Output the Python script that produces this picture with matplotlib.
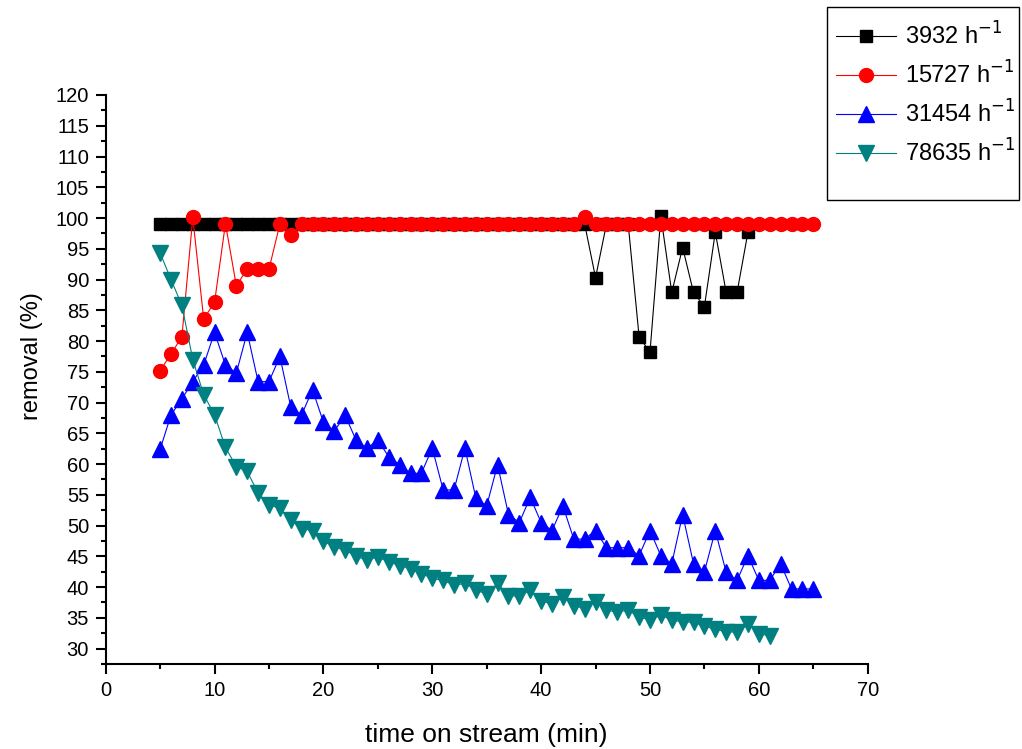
import matplotlib
matplotlib.use("Agg")
import matplotlib.pyplot as plt
from matplotlib.ticker import MultipleLocator
from matplotlib.patches import Rectangle

plt.rcParams['font.family'] = ['Liberation Sans', 'DejaVu Sans']

# ---- data ----
x_3932 = [5, 6, 7, 8, 9, 10, 11, 12, 13, 14, 15, 16, 17, 18, 19, 20, 21, 22, 23, 24,
          25, 26, 27, 28, 29, 30, 31, 32, 33, 34, 35, 36, 37, 38, 39, 40, 41, 42, 43, 44,
          45, 46, 47, 48, 49, 50, 51, 52, 53, 54, 55, 56, 57, 58, 59]
y_3932 = [99, 99, 99, 99, 99, 99, 99, 99, 99, 99, 99, 99, 99, 99, 99, 99, 99, 99, 99, 99,
          99, 99, 99, 99, 99, 99, 99, 99, 99, 99, 99, 99, 99, 99, 99, 99, 99, 99, 99, 99,
          90.3, 99, 99, 99, 80.7, 78.2, 100.3, 87.9, 95.2, 87.9, 85.6, 97.7, 87.9, 87.9, 97.7]

x_15727 = [5, 6, 7, 8, 9, 10, 11, 12, 13, 14, 15, 16, 17, 18, 19, 20, 21, 22, 23, 24,
           25, 26, 27, 28, 29, 30, 31, 32, 33, 34, 35, 36, 37, 38, 39, 40, 41, 42, 43, 44,
           45, 46, 47, 48, 49, 50, 51, 52, 53, 54, 55, 56, 57, 58, 59, 60, 61, 62, 63, 64, 65]
y_15727 = [75.2, 77.9, 80.7, 100.1, 83.6, 86.3, 99.1, 89.0, 91.7, 91.7, 91.7, 99, 97.3, 99, 99,
           99, 99, 99, 99, 99, 99, 99, 99, 99, 99, 99, 99, 99, 99, 99, 99, 99, 99, 99, 99,
           99, 99, 99, 99, 100.1, 99, 99, 99, 99, 99, 99, 99, 99, 99, 99, 99, 99, 99, 99,
           99, 99, 99, 99, 99, 99, 99]

x_31454 = [5, 6, 7, 8, 9, 10, 11, 12, 13, 14, 15, 16, 17, 18, 19, 20, 21, 22, 23, 24,
           25, 26, 27, 28, 29, 30, 31, 32, 33, 34, 35, 36, 37, 38, 39, 40, 41, 42, 43, 44,
           45, 46, 47, 48, 49, 50, 51, 52, 53, 54, 55, 56, 57, 58, 59, 60, 61, 62, 63, 64, 65]
y_31454 = [62.4, 68.0, 70.6, 73.4, 76.1, 81.4, 76.1, 74.8, 81.4, 73.4, 73.4, 77.5, 69.3, 68.0,
           72.1, 66.8, 65.4, 67.9, 63.9, 62.6, 63.9, 61.2, 59.9, 58.5, 58.5, 62.6, 55.8, 55.8,
           62.6, 54.5, 53.2, 59.9, 51.8, 50.5, 54.6, 50.5, 49.2, 53.2, 47.8, 47.8, 49.2, 46.4,
           46.4, 46.4, 45.1, 49.2, 45.1, 43.8, 51.8, 43.8, 42.5, 49.2, 42.4, 41.1, 45.1, 41.1,
           41.1, 43.8, 39.7, 39.7, 39.7]

x_78635 = [5, 6, 7, 8, 9, 10, 11, 12, 13, 14, 15, 16, 17, 18, 19, 20, 21, 22, 23, 24,
           25, 26, 27, 28, 29, 30, 31, 32, 33, 34, 35, 36, 37, 38, 39, 40, 41, 42, 43, 44,
           45, 46, 47, 48, 49, 50, 51, 52, 53, 54, 55, 56, 57, 58, 59, 60, 61]
y_78635 = [94.3, 90.0, 85.8, 77.0, 71.3, 68.0, 62.7, 59.6, 58.8, 55.3, 53.4, 52.8, 50.9, 49.5,
           49.2, 47.5, 46.5, 46.0, 45.0, 44.4, 44.9, 44.1, 43.5, 43.0, 42.2, 41.4, 41.1, 40.3,
           40.6, 39.5, 38.9, 40.6, 38.6, 38.5, 39.5, 37.8, 37.2, 38.4, 37.0, 36.5, 37.6, 36.3,
           35.9, 36.3, 35.1, 34.7, 35.4, 34.7, 34.3, 34.3, 33.6, 33.2, 32.7, 32.7, 34.0, 32.4, 32.1]

labels = ['3932 h$^{-1}$', '15727 h$^{-1}$', '31454 h$^{-1}$', '78635 h$^{-1}$']
x_ticks = [0, 10, 20, 30, 40, 50, 60, 70]
y_ticks = [30, 35, 40, 45, 50, 55, 60, 65, 70, 75, 80, 85, 90, 95, 100, 105, 110, 115, 120]

# ---- figure ----
W, H = 1022, 749
fig = plt.figure(figsize=(W / 100, H / 100), dpi=100)
ax = fig.add_axes([105.7 / W, 1 - 664 / H, (867.7 - 105.7) / W, (664 - 95) / H])

lw = 0.8
ax.plot(x_3932, y_3932, color='black', lw=lw, marker='s', ms=8.5, label=labels[0])
ax.plot(x_15727, y_15727, color='red', lw=lw, marker='o', ms=10, label=labels[1])
ax.plot(x_31454, y_31454, color='blue', lw=lw, marker='^', ms=11, label=labels[2])
ax.plot(x_78635, y_78635, color='#008080', lw=lw, marker='v', ms=11, label=labels[3])

ax.set_xlim(0, 70)
ax.set_ylim(27.5, 120)
ax.set_xticks(x_ticks)
ax.set_yticks(y_ticks)
ax.xaxis.set_minor_locator(MultipleLocator(5))
ax.yaxis.set_minor_locator(MultipleLocator(2.5))

for s in ['top', 'right']:
    ax.spines[s].set_visible(False)
for s in ['left', 'bottom']:
    ax.spines[s].set_linewidth(1.5)

ax.tick_params(axis='both', which='major', direction='out', length=7.5, width=1.5,
               labelsize=14.5, pad=4.5)
ax.tick_params(axis='both', which='minor', direction='out', length=3.8, width=1.5)

ax.set_xlabel('time on stream (min)', fontsize=19)
ax.set_ylabel('removal (%)', fontsize=17)
ax.xaxis.set_label_coords(0.499, -0.103)
ax.yaxis.set_label_coords(-0.082, 0.541)

fs = 17
leg = ax.legend(loc='upper left', bbox_to_anchor=(821.5 / W, 1 - 8 / H),
                bbox_transform=fig.transFigure, fontsize=fs, frameon=False,
                handlelength=2.54, labelspacing=0.5, borderpad=0.6,
                handletextpad=0.38, borderaxespad=0)

fig.add_artist(Rectangle((826.5 / W, 1 - 200 / H), (1019 - 826.5) / W, (200 - 7) / H,
                         transform=fig.transFigure, fill=False, ec='black', lw=1.0))

fig.savefig('out.png', dpi=100)
